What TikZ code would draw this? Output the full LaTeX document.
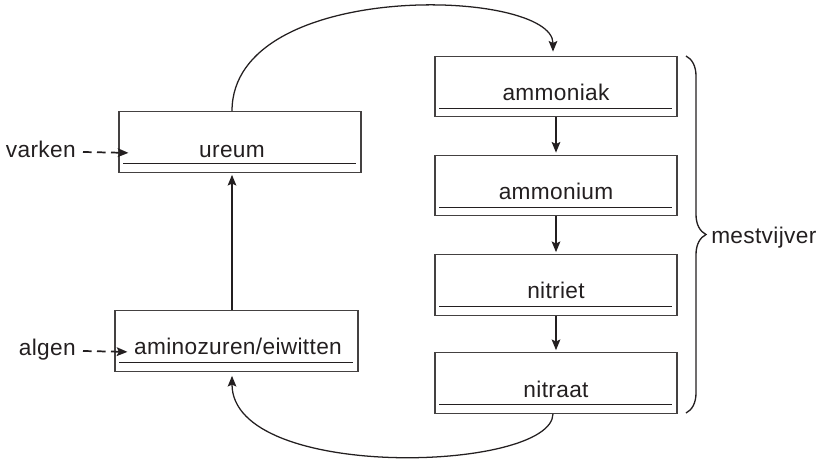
\documentclass[tikz,border=0pt]{standalone}
\usepackage{fontspec}
\setmainfont{Liberation Sans}
\newfontfamily\lblfont[LetterSpace=1.5]{Liberation Sans}
\usetikzlibrary{arrows.meta,calc,decorations.pathreplacing}
\definecolor{ink}{RGB}{35,31,32}
\tikzset{
  box/.style={draw=ink!85, line width=0.8pt, minimum width=181.5pt, minimum height=45.5pt, inner sep=0pt},
  lbl/.style={anchor=base, inner sep=0pt, text=ink, font=\lblfont\fontsize{17}{20}\selectfont},
  side/.style={inner sep=0pt, text=ink, font=\lblfont\fontsize{17}{20}\selectfont},
  uline/.style={draw=ink, line width=0.9pt},
  arr/.style={draw=ink, line width=0.95pt, -{Stealth[length=8pt,width=6.5pt,inset=1.5pt]}},
  darr/.style={arr, line width=1.3pt, dash pattern=on 6.5pt off 4pt},
}
\begin{document}
\begin{tikzpicture}[x=0.75pt,y=-0.75pt]
\useasboundingbox (0,0) rectangle (821,462);
% left boxes
\node[box] (ureum) at (240,142) {};
\node[box, minimum width=182.25pt] (amino) at (236.5,341) {};
% right boxes
\node[box] (ammoniak) at (556,86.5) {};
\node[box] (ammonium) at (556,185.5) {};
\node[box] (nitriet) at (556,285) {};
\node[box] (nitraat) at (556,383) {};
% underlines
\foreach \b in {ureum,amino,ammoniak,ammonium,nitriet,nitraat}{
  \draw[uline] ($(\b.south west)+(5,-9)$) -- ($(\b.south east)+(-6,-9)$);
}
% labels
\node[lbl] (tureum) at (232,157) {ureum};
\node[lbl] (tamino) at (238,354) {aminozuren/eiwitten};
\node[lbl] (tammoniak) at (556,100) {ammoniak};
\node[lbl] (tammonium) at (556,199) {ammonium};
\node[lbl] (tnitriet) at (556,298) {nitriet};
\node[lbl] (tnitraat) at (556,397) {nitraat};
% side labels
\node[side, anchor=base east] (varken) at (76,157) {varken};
\node[side, anchor=base east] (algen) at (76,355) {algen};
\node[side, anchor=base west] (mest) at (711,243) {mestvijver};
% dashed arrows
\draw[darr] ($(varken.base east)+(7,-5)$) -- ($(ureum.south west)+(10,-20)$);
\draw[darr] ($(algen.base east)+(7,-4)$) -- ($(amino.south west)+(13,-20)$);
% axes
\coordinate (axl) at (232,0);
\coordinate (axr) at (553,0);
% vertical arrows
\draw[arr, shorten >=1.5pt] (amino.north -| axl) -- (ureum.south -| axl);
\draw[arr, shorten >=1.5pt] (ammoniak.south) -- (ammonium.north);
\draw[arr, shorten >=1.5pt] (ammonium.south) -- (nitriet.north);
\draw[arr, shorten >=1.5pt] (nitriet.south) -- (nitraat.north);
% curved arrows
\draw[arr, shorten >=3pt] (ureum.north -| axl) .. controls (232,-22) and (553,-12) .. (ammoniak.north -| axr);
\draw[arr, shorten >=3pt] (nitraat.south -| axr) .. controls (552,472) and (232,482) .. (amino.south -| axl);
% brace
\draw[draw=ink, line width=1pt, decorate, decoration={brace, amplitude=15pt}] (686,56) -- (686,413);
\end{tikzpicture}
\end{document}
